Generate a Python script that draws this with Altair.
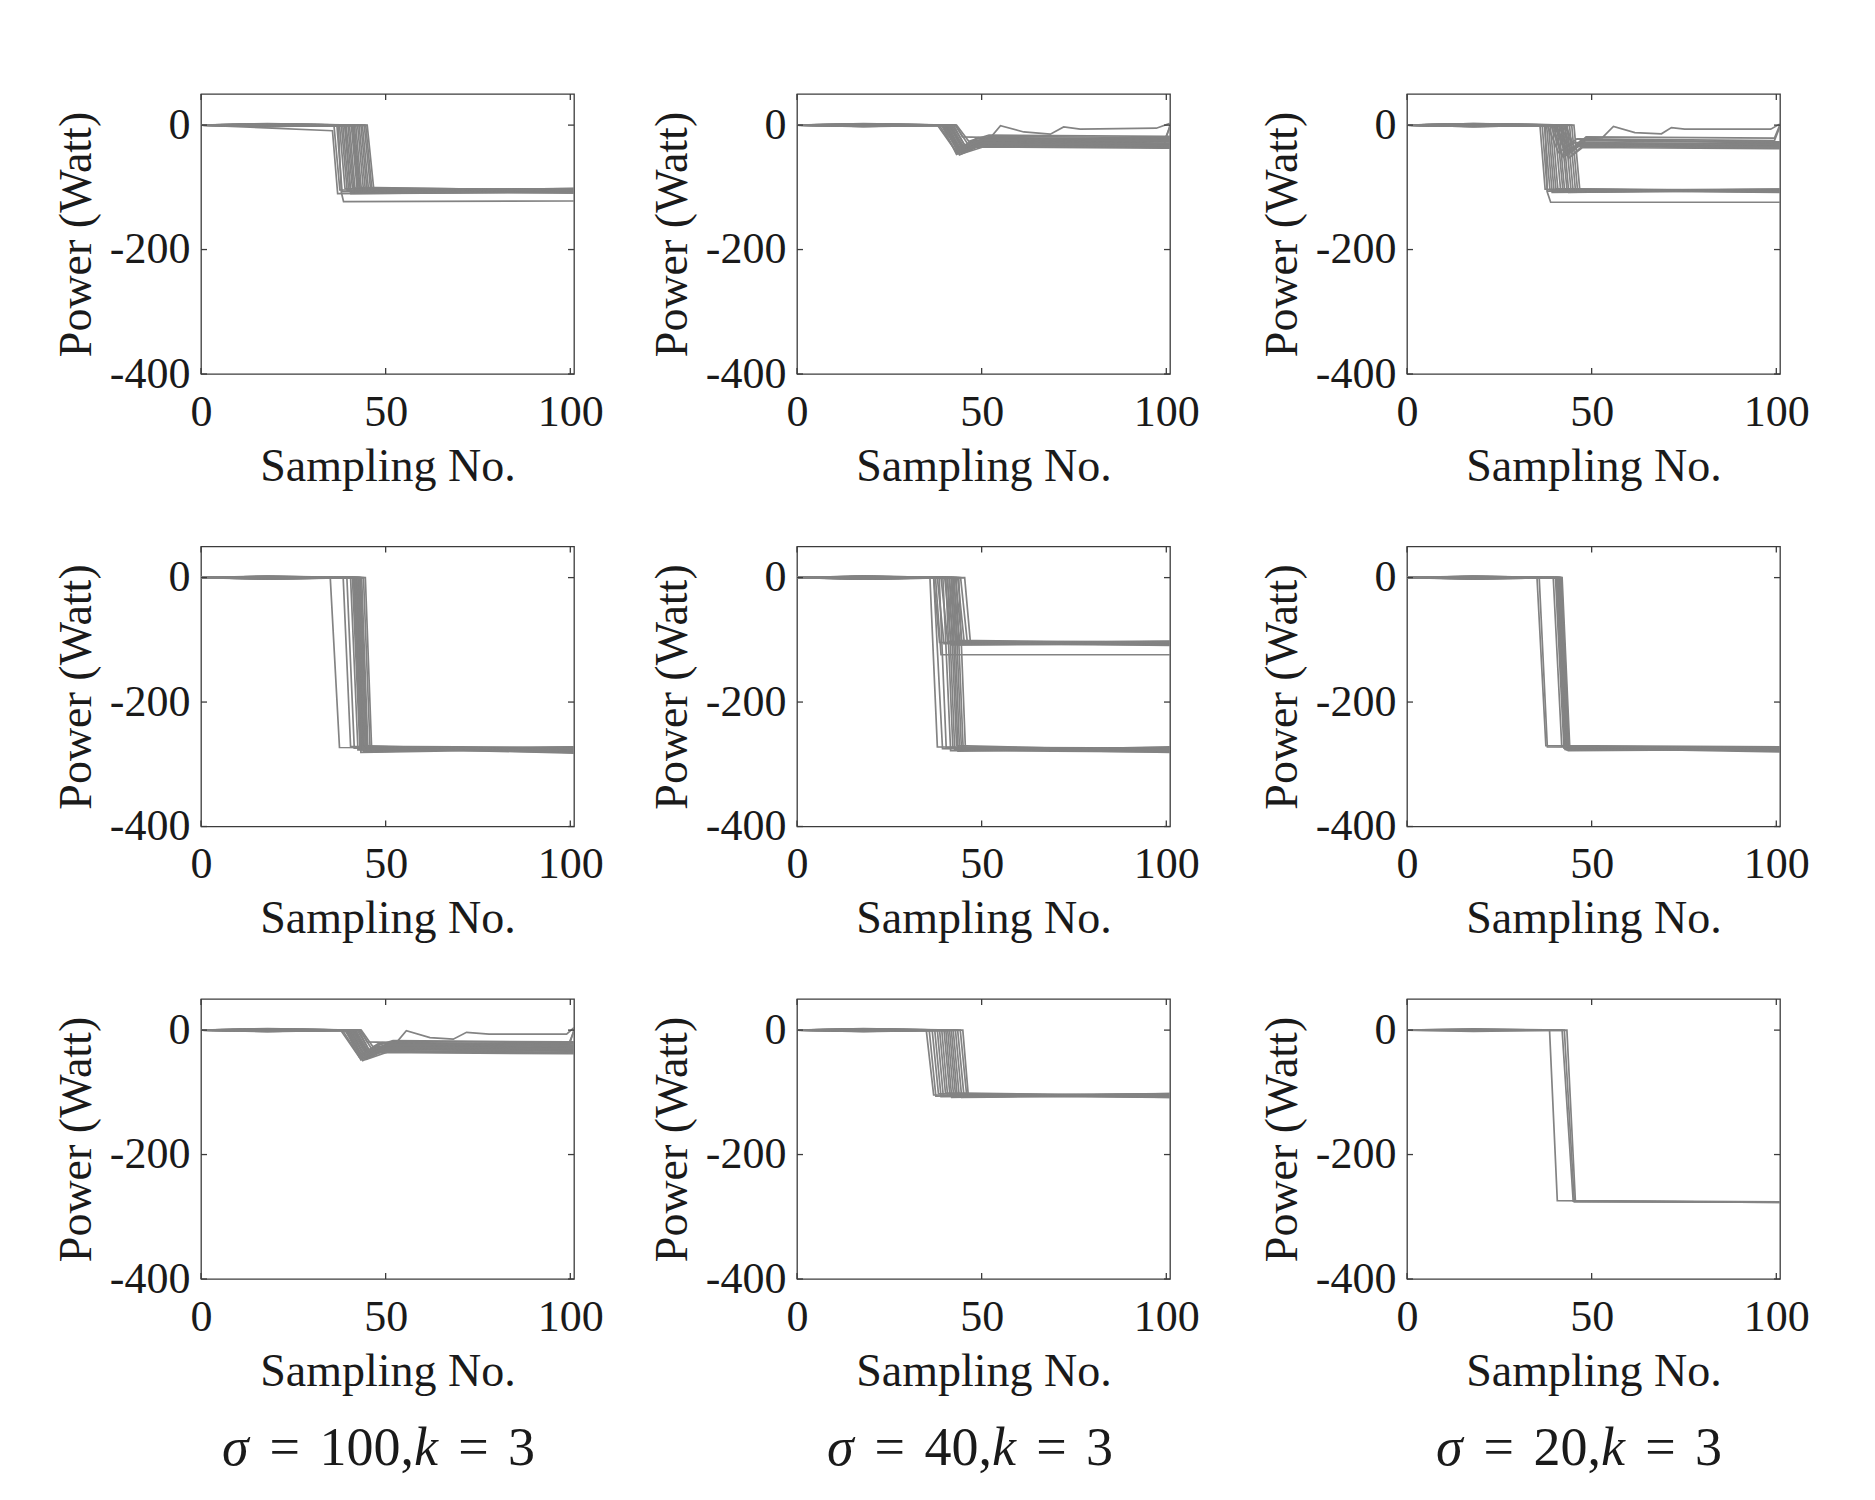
import altair as alt
import pandas as pd

# ---------------------------------------------------------------- styling
FONT = "Liberation Serif"
INK = "#1a1a1a"
FRAME = "#3c3c3c"
GRAY = "#838383"
W, H = 373, 280
TICK = 6
X_DOMAIN = [0, 101]
Y_DOMAIN = [-400, 50]
X_TICKS = [0, 50, 100]
Y_TICKS = [-400, -200, 0]

SIGMAS = [100, 40, 20]
K_VALUE = 3

# small deviation of each trace around 0 W before the event
BASE_DEV = [1.5, -1.0, 2.0, -2.0, 0.5, -1.5, 1.0, 2.5, -0.5, -2.5, 1.8, -1.2,
            0.8, -1.8, 2.2, -0.8, 1.2, -2.2, 0.3, -0.3, 1.6, -1.6, 2.4, -2.4, 0.6]

# ---------------------------------------------------------------- σ=100, row 1
p1_start = [36.0, 36.8, 37.5, 38.0, 38.4, 38.9, 39.3, 39.8, 40.2, 40.7, 41.0,
            41.5, 41.9, 42.4, 42.8, 43.3, 43.7, 44.2, 44.6, 45.0, 39.0, 41.2]
p1_end = [37.6, 38.2, 39.0, 39.6, 40.0, 40.5, 41.0, 41.4, 41.8, 42.3, 42.6,
          43.1, 43.5, 44.0, 44.5, 45.0, 45.4, 45.9, 46.3, 46.8, 40.6, 42.8]
p1_level = [-104, -107, -102, -106, -105, -109, -101, -105, -108, -104, -106,
            -103, -109, -105, -104, -107, -106, -102, -105, -104, -110, -100]
p1_last = [-106, -103, -105, -109, -102, -106, -104, -108, -105, -106, -102,
           -105, -107, -104, -108, -105, -103, -106, -109, -102, -107, -105]
p1_slow_x = [0, 35.6, 37.0, 101]
p1_slow_y = [0, -9, -110, -108]
p1_low_x = [0, 37.2, 38.0, 38.6, 101]
p1_low_y = [0, -1, -108, -123, -122]

# ---------------------------------------------------------------- σ=40, row 1
p2_start = [38.0, 38.5, 39.0, 39.5, 40.0, 40.2, 40.6, 41.0, 41.3, 41.7,
            42.0, 42.4, 42.8, 39.2, 40.4, 41.1, 43.2, 39.8, 40.8, 41.5]
p2_min_x = [43.0, 43.4, 43.6, 44.0, 44.1, 44.5, 44.6, 45.0, 45.1, 45.5,
            45.6, 46.0, 46.2, 43.2, 44.0, 44.9, 46.5, 43.9, 44.6, 45.2]
p2_min = [-42, -45, -38, -48, -44, -40, -46, -36, -43, -41,
          -34, -39, -30, -47, -43, -37, -26, -45, -42, -35]
p2_set_x = [48.0, 49.0, 48.5, 50.0, 49.5, 50.0, 51.0, 49.0, 50.5, 51.0,
            52.0, 50.0, 51.5, 48.0, 49.0, 50.0, 52.0, 49.5, 50.5, 51.0]
p2_set = [-25, -28, -22, -32, -30, -26, -34, -20, -29, -27,
          -18, -31, -21, -35, -30, -24, -16, -33, -28, -23]
p2_end = [-27, -31, -24, -35, -32, -29, -36, -22, -31, -30,
          -20, -33, -23, -37, -33, -26, -18, -36, -30, -25]
p2_last = [-27, -31, -3, -35, -32, -29, -36, -22, -31, 0,
           -20, -33, -23, -37, -33, -26, -18, -36, -30, -25]
p2_wave_x = [0, 43.0, 44.8, 52.4, 55.1, 61.4, 68.6, 72.2, 76.7, 97.3, 101]
p2_wave_y = [0, 0, -19, -20, -1, -11, -14.5, -3, -6.4, -5, 3]

# ---------------------------------------------------------------- σ=20, row 1
p3_start = [36.0, 36.6, 37.2, 37.8, 38.3, 38.8, 39.4, 40.0, 40.6, 41.1,
            41.7, 42.2, 42.8, 43.4, 44.0, 44.6, 45.2]
p3_end = [37.4, 38.0, 38.7, 39.3, 39.8, 40.3, 40.9, 41.6, 42.2, 42.7,
          43.3, 43.8, 44.4, 45.0, 45.6, 46.2, 46.8]
p3_level = [-103, -106, -104, -108, -105, -102, -107, -105, -104, -106,
            -103, -108, -105, -107, -104, -106, -105]
p3_last = [-105, -104, -107, -105, -103, -106, -105, -108, -104, -105,
           -107, -104, -106, -103, -105, -104, -107]
p3_dip_start = [38.0, 39.0, 39.8, 40.5, 41.2, 41.8, 42.4, 43.0, 39.5, 41.5, 42.8, 40.2]
p3_dip_min_x = [41.0, 42.0, 42.6, 43.2, 43.8, 44.3, 44.8, 45.3, 42.3, 44.0, 45.0, 43.0]
p3_dip_min = [-44, -50, -38, -47, -53, -41, -48, -36, -52, -45, -40, -49]
p3_dip_set_x = [45.5, 46.5, 46.0, 47.0, 47.5, 47.0, 48.0, 48.5, 46.5, 47.5, 48.5, 46.5]
p3_dip_set = [-28, -33, -22, -30, -36, -25, -31, -19, -34, -29, -24, -32]
p3_dip_end = [-30, -35, -25, -33, -38, -28, -34, -21, -37, -31, -27, -35]
p3_dip_last = [-30, -35, -2, -33, -38, -28, -34, 1, -37, -31, -27, -35]
p3_low_x = [0, 37.4, 38.0, 38.9, 101]
p3_low_y = [0, -1, -108, -124, -124]
p3_wave_x = [0, 40.0, 43.0, 45.0, 48.0, 52.9, 55.9, 61.7, 68.9, 71.6, 75.2, 98.5, 101]
p3_wave_y = [0, 0, -30, -40, -22, -20, -2, -12, -14, -4, -6.5, -6.5, 2]

# ---------------------------------------------------------------- σ=100, row 2
p4_start = [35.0, 38.5, 39.5, 40.5, 41.0, 41.5, 41.6, 42.0, 42.1, 42.2,
            42.5, 42.7, 43.0, 43.2, 43.5, 44.0, 44.5, 41.8, 41.3, 42.9]
p4_end = [37.5, 40.5, 41.5, 42.5, 43.0, 43.2, 43.5, 43.8, 44.0, 44.1,
          44.2, 44.5, 44.8, 45.0, 45.2, 45.8, 46.2, 43.7, 43.3, 44.6]
p4_level = [-273, -271, -274, -277, -270, -277, -275, -273, -279, -274,
            -276, -272, -280, -275, -273, -277, -274, -276, -281, -271]
p4_last = [-275, -273, -277, -272, -280, -275, -279, -276, -274, -282,
           -277, -275, -272, -280, -276, -274, -281, -277, -275, -278]

# ---------------------------------------------------------------- σ=40, row 2
p5a_start = [37.0, 38.0, 39.0, 40.0, 40.6, 41.2, 41.8, 42.3, 42.9, 43.5, 44.3, 45.4]
p5a_end = [38.6, 39.8, 40.8, 41.8, 42.4, 43.0, 43.6, 44.1, 44.7, 45.3, 46.1, 47.0]
p5a_level = [-104, -106, -102, -108, -105, -101, -108, -104, -106, -105, -103, -107]
p5a_last = [-106, -103, -105, -105, -108, -104, -107, -102, -105, -109, -104, -105]
p5b_start = [36.0, 37.0, 38.5, 39.5, 40.3, 40.8, 41.3, 41.8, 42.2, 42.6, 43.1, 43.8]
p5b_end = [38.0, 39.4, 40.4, 41.6, 42.2, 42.7, 43.2, 43.6, 44.0, 44.5, 45.0, 45.6]
p5b_level = [-272, -275, -273, -278, -274, -276, -270, -279, -275, -273, -276, -274]
p5b_last = [-275, -278, -274, -280, -276, -273, -279, -272, -281, -276, -275, -277]
p5_low_x = [0, 37.5, 39.0, 101]
p5_low_y = [0, 0, -124, -124]

# ---------------------------------------------------------------- σ=20, row 2
p6_start = [35.2, 35.8, 40.2, 40.5, 40.8, 41.0, 41.2, 41.4, 41.6, 41.8,
            42.0, 40.6, 41.1, 41.5, 39.6]
p6_end = [37.6, 38.0, 42.5, 42.8, 43.0, 43.2, 43.4, 43.5, 43.7, 43.9,
          44.1, 42.9, 43.3, 43.6, 41.9]
p6_level = [-270, -272, -274, -276, -273, -277, -275, -272, -278, -274,
            -276, -275, -273, -277, -271]
p6_last = [-272, -274, -276, -274, -279, -275, -277, -273, -276, -280,
           -274, -278, -275, -276, -273]

# ---------------------------------------------------------------- σ=100, row 3
p7_start = [37.8, 38.3, 38.9, 39.4, 39.9, 40.3, 40.7, 41.1, 41.5, 41.9,
            42.3, 42.7, 43.0, 39.1, 40.1, 41.3, 43.4, 39.6, 40.9, 41.7]
p7_min_x = [42.8, 43.2, 43.5, 43.8, 44.0, 44.4, 44.7, 45.0, 45.2, 45.5,
            45.8, 46.0, 46.3, 43.3, 44.2, 45.0, 46.6, 43.7, 44.8, 45.3]
p7_min = [-43, -46, -39, -49, -45, -41, -47, -37, -44, -40,
          -35, -38, -31, -48, -42, -36, -27, -46, -41, -34]
p7_set_x = [47.5, 48.5, 48.2, 49.5, 49.2, 50.0, 50.6, 49.0, 50.3, 51.0,
            51.8, 50.2, 51.4, 48.0, 49.3, 50.0, 52.0, 49.4, 50.8, 51.2]
p7_set = [-26, -29, -21, -33, -30, -25, -35, -20, -28, -27,
          -18, -31, -22, -36, -29, -24, -17, -34, -27, -23]
p7_end = [-28, -31, -23, -36, -33, -28, -37, -22, -31, -29,
          -20, -34, -24, -38, -32, -26, -19, -36, -30, -25]
p7_last = [-28, -31, -2, -36, -33, -28, -37, -22, -31, 1,
           -20, -34, -24, -38, -32, -26, -19, -36, -30, -25]
p7_wave_x = [0, 43.2, 45.0, 52.9, 55.6, 62.0, 68.3, 71.9, 78.0, 99.0, 101]
p7_wave_y = [0, 0, -19, -20, -1, -12, -14.5, -3.5, -6.5, -6.5, 4]

# ---------------------------------------------------------------- σ=40, row 3
p8_start = [35.0, 35.8, 36.6, 37.3, 38.0, 38.6, 39.2, 39.8, 40.3, 40.8,
            41.3, 41.8, 42.3, 42.9, 43.5, 44.2, 44.9]
p8_end = [37.0, 37.6, 38.3, 39.0, 39.6, 40.2, 40.8, 41.4, 41.9, 42.4,
          42.9, 43.4, 43.9, 44.6, 45.2, 45.9, 46.4]
p8_level = [-104, -106, -102, -107, -105, -101, -106, -104, -108, -105,
            -103, -107, -104, -108, -105, -102, -106]
p8_last = [-105, -102, -106, -104, -108, -105, -103, -107, -102, -105,
           -108, -104, -106, -105, -103, -107, -105]

# ---------------------------------------------------------------- σ=20, row 3
p9_start = [38.6, 42.0, 42.6, 43.3]
p9_end = [40.7, 45.0, 45.3, 45.6]
p9_level = [-274, -275, -276, -275]
p9_last = [-276, -277, -276, -277]


# ---------------------------------------------------------------- trace tables
def rows_from(points, tag):
    return [{"x": x, "y": y, "trace": tag} for x, y in points]


def step_traces(start, end, level, last, tag):
    rows = []
    for i, (a, b, lv, le) in enumerate(zip(start, end, level, last)):
        pts = [(0, 0), (18, BASE_DEV[i]), (a, 0), (b, lv), (101, le)]
        rows += rows_from(pts, f"{tag}{i}")
    return rows


def dip_traces(start, min_x, vmin, set_x, vset, vend, vlast, tag):
    rows = []
    for i, vals in enumerate(zip(start, min_x, vmin, set_x, vset, vend, vlast)):
        a, mx, mn, sx, st, en, la = vals
        pts = [(0, 0), (18, BASE_DEV[i]), (a, 0), (mx, mn), (sx, st), (99.5, en), (101, la)]
        rows += rows_from(pts, f"{tag}{i}")
    return rows


def explicit_trace(xs, ys, tag):
    return rows_from(zip(xs, ys), tag)


panel_rows = [
    # row 1
    step_traces(p1_start, p1_end, p1_level, p1_last, "a")
    + explicit_trace(p1_slow_x, p1_slow_y, "a-slow")
    + explicit_trace(p1_low_x, p1_low_y, "a-low"),
    dip_traces(p2_start, p2_min_x, p2_min, p2_set_x, p2_set, p2_end, p2_last, "b")
    + explicit_trace(p2_wave_x, p2_wave_y, "b-wave"),
    step_traces(p3_start, p3_end, p3_level, p3_last, "c")
    + dip_traces(p3_dip_start, p3_dip_min_x, p3_dip_min, p3_dip_set_x, p3_dip_set,
                 p3_dip_end, p3_dip_last, "cd")
    + explicit_trace(p3_low_x, p3_low_y, "c-low")
    + explicit_trace(p3_wave_x, p3_wave_y, "c-wave"),
    # row 2
    step_traces(p4_start, p4_end, p4_level, p4_last, "d"),
    step_traces(p5a_start, p5a_end, p5a_level, p5a_last, "ea")
    + step_traces(p5b_start, p5b_end, p5b_level, p5b_last, "eb")
    + explicit_trace(p5_low_x, p5_low_y, "e-low"),
    step_traces(p6_start, p6_end, p6_level, p6_last, "f"),
    # row 3
    dip_traces(p7_start, p7_min_x, p7_min, p7_set_x, p7_set, p7_end, p7_last, "g")
    + explicit_trace(p7_wave_x, p7_wave_y, "g-wave"),
    step_traces(p8_start, p8_end, p8_level, p8_last, "h"),
    step_traces(p9_start, p9_end, p9_level, p9_last, "i"),
]

# ---------------------------------------------------------------- chart parts
x_scale = alt.Scale(domain=X_DOMAIN, nice=False, zero=False)
y_scale = alt.Scale(domain=Y_DOMAIN, nice=False, zero=False)
x_axis = alt.Axis(values=X_TICKS, title="Sampling No.", labelFlush=False,
                  labelExpr="datum.value + ''")
y_axis = alt.Axis(values=Y_TICKS, title="Power (Watt)", labelFlush=False,
                  labelExpr="datum.value + ''")
one_row = pd.DataFrame({"v": [0]})

LABEL_SIZE = 54
LABEL_GAP = 0.36 * LABEL_SIZE
ADVANCE = {"σ": 0.52, "k": 0.46, "=": 0.564, ",": 0.25}
LABEL_START = [21, 30, 29]
LABEL_BASELINE = H + 186


def advance(txt):
    return sum(ADVANCE.get(c, 0.5) for c in txt) * LABEL_SIZE


def caption_layers(sigma, start):
    pieces = [("σ", True, LABEL_GAP), ("=", False, LABEL_GAP),
              (f"{sigma},", False, 0), ("k", True, LABEL_GAP),
              ("=", False, LABEL_GAP), (str(K_VALUE), False, 0)]
    layers = []
    x = start
    for txt, italic, gap in pieces:
        layers.append(
            alt.Chart(one_row).mark_text(
                text=txt, font=FONT, fontSize=LABEL_SIZE,
                fontStyle="italic" if italic else "normal",
                align="left", baseline="alphabetic", color=INK,
            ).encode(x=alt.value(x), y=alt.value(LABEL_BASELINE))
        )
        x += advance(txt) + gap
    return layers


def box_ticks():
    # inward tick marks on all four sides of the frame
    xt = alt.Chart(pd.DataFrame({"x": X_TICKS}))
    yt = alt.Chart(pd.DataFrame({"y": Y_TICKS}))
    style = dict(color=FRAME, strokeWidth=1.3)
    bottom = xt.mark_rule(**style).encode(
        x=alt.X("x:Q", scale=x_scale, axis=x_axis), y=alt.value(H), y2=alt.value(H - TICK))
    top = xt.mark_rule(**style).encode(
        x=alt.X("x:Q", scale=x_scale, axis=x_axis), y=alt.value(0), y2=alt.value(TICK))
    left = yt.mark_rule(**style).encode(
        y=alt.Y("y:Q", scale=y_scale, axis=y_axis), x=alt.value(0), x2=alt.value(TICK))
    right = yt.mark_rule(**style).encode(
        y=alt.Y("y:Q", scale=y_scale, axis=y_axis), x=alt.value(W), x2=alt.value(W - TICK))
    return [bottom, top, left, right]


def panel(rows, col, with_caption):
    lines = alt.Chart(pd.DataFrame(rows)).mark_line(
        color=GRAY, strokeWidth=1.7, clip=True
    ).encode(
        x=alt.X("x:Q", scale=x_scale, axis=x_axis),
        y=alt.Y("y:Q", scale=y_scale, axis=y_axis),
        detail="trace:N",
    )
    layers = [lines] + box_ticks()
    if with_caption:
        layers += caption_layers(SIGMAS[col], LABEL_START[col])
    return alt.layer(*layers).properties(width=W, height=H)


def spacer(width):
    return alt.Chart(one_row).mark_point(opacity=0).encode(
        x=alt.value(0), y=alt.value(0)
    ).properties(width=width, height=H, view=alt.ViewBackground(strokeOpacity=0))


GAP_12 = 222.5
GAP_23 = 236.8

cells = []
for r in range(3):
    for c in range(3):
        cells.append(panel(panel_rows[3 * r + c], c, r == 2))
        if c == 0:
            cells.append(spacer(GAP_12))
        elif c == 1:
            cells.append(spacer(GAP_23))

chart = alt.concat(
    *cells, columns=5, spacing={"row": 172.5, "column": 0}, bounds="flush"
).properties(
    padding={"left": 52, "top": 91, "right": 40, "bottom": 20},
    background="white",
).configure_view(
    stroke=FRAME, strokeWidth=1.3
).configure_axis(
    labelFont=FONT, titleFont=FONT, labelFontSize=44, titleFontSize=46,
    labelColor=INK, titleColor=INK, titleFontWeight="normal",
    ticks=False, tickSize=0, domain=False, grid=False,
    labelPadding=16, titlePadding=10,
).configure_axisY(
    labelPadding=11, titlePadding=9,
)

chart.save("out.html", embed_options={"renderer": "svg", "actions": False})
